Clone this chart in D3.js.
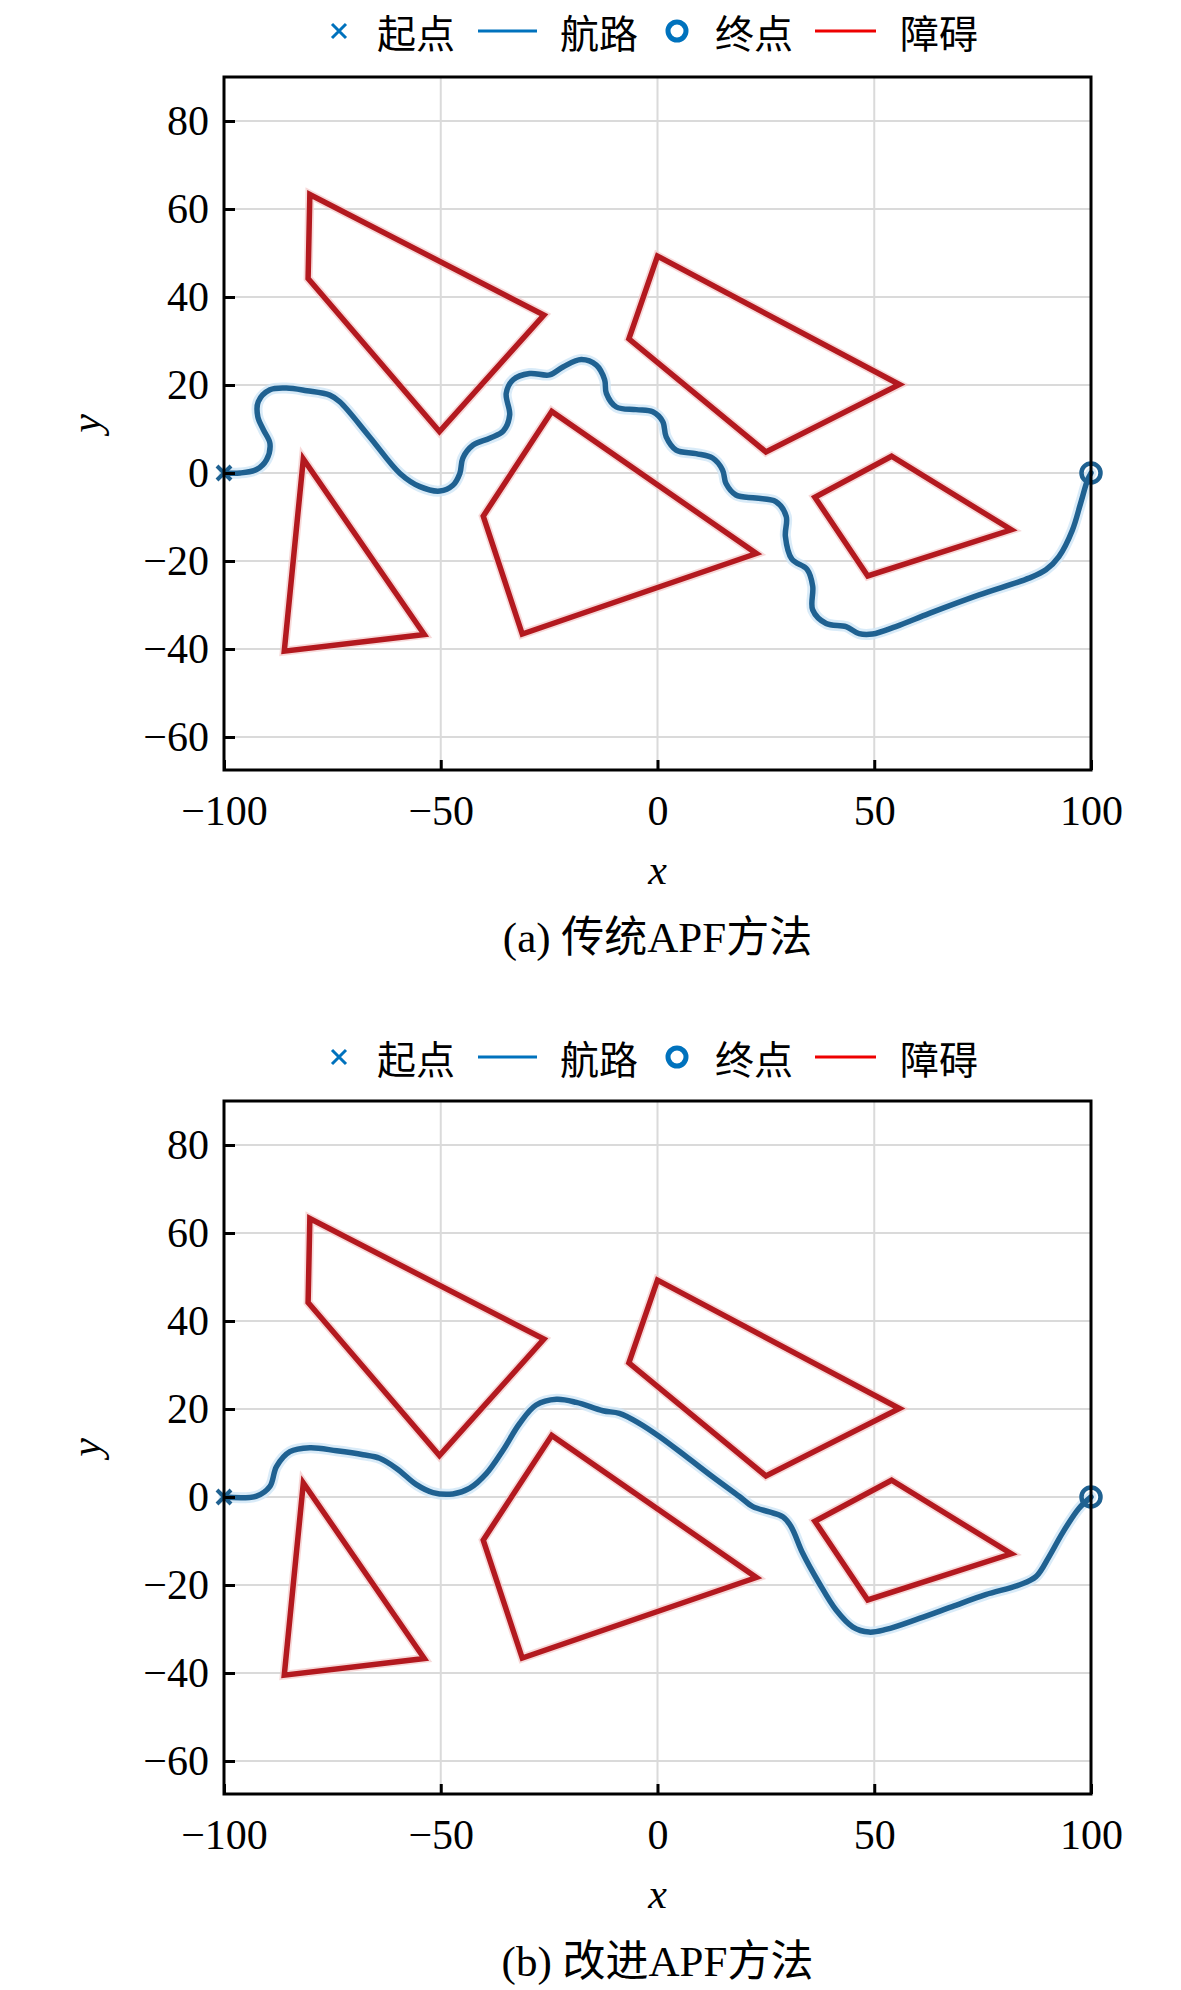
<!DOCTYPE html>
<html>
<head>
<meta charset="utf-8">
<script src="https://cdn.jsdelivr.net/npm/d3@7"></script>
<style>
  html, body { margin: 0; padding: 0; background: #fff; }
  svg { display: block; }
</style>
</head>
<body>
<svg id="chart" width="1181" height="1990"></svg>
<script>
// ---------------- data ----------------
const xTicks = [-100, -50, 0, 50, 100];
const yTicks = [-60, -40, -20, 0, 20, 40, 60, 80];
const xDomain = [-100, 100];
const yDomain = [-67.5, 90.0];

const obstacleA = [[-80.2, 63.3], [-80.6, 44.2], [-50.3, 9.4], [-26.2, 35.9]];
const obstacleB = [[0, 49.3], [-6.6, 30.5], [25.0, 4.8], [55.8, 20.1]];
const obstacleC = [[-81.7, 3.2], [-86.1, -40.5], [-53.8, -36.7]];
const obstacleD = [[-24.4, 14.0], [-40.2, -9.8], [-31.2, -36.6], [22.8, -18.3]];
const obstacleE = [[54, 3.8], [36.3, -5.5], [48.5, -23.4], [81.6, -12.9]];
const obstacles = [obstacleA, obstacleB, obstacleC, obstacleD, obstacleE];

const startPoint = [-100, 0];
const endPoint = [100, 0];

// traditional APF path
const pathTraditional = [
  [-100, 0], [-96.3, 0], [-92.5, 0.8], [-90.2, 3], [-89.4, 6.7], [-90.9, 9.8], [-92.2, 12.8],
  [-92.1, 16.2], [-89.4, 18.9], [-85.6, 19.3], [-80.9, 18.7], [-75.6, 17.7], [-73.3, 16.2],
  [-66.4, 8.2], [-59.4, -0.1], [-54.8, -3.1], [-50.2, -4.1], [-47.2, -2.8], [-45.6, -0.1],
  [-44.9, 3.4], [-42.6, 6.3], [-38.7, 7.9], [-35.6, 9.5], [-34.1, 13.2], [-34.9, 18.1],
  [-33.3, 21.2], [-29.5, 22.6], [-24.9, 22.3], [-21.8, 24.1], [-17.6, 25.8], [-14.1, 24.5],
  [-12.2, 21.2], [-11.8, 18.1], [-9.5, 15.0], [-4.9, 14.4], [-1.1, 13.9], [1.2, 11.7],
  [2.0, 8.2], [4.3, 5.2], [8.9, 4.4], [12.7, 3.4], [15.0, 0.7], [15.8, -2.4], [18.1, -5.0],
  [22.7, -5.7], [27.3, -6.5], [29.7, -9.9], [29.5, -14.4], [31.0, -19.6], [34.5, -21.9],
  [35.8, -25.7], [35.8, -31.1], [38.9, -34.2], [43.5, -34.9], [46.5, -36.5], [49.6, -36.6],
  [55, -34.9], [62.7, -31.9], [74.2, -27.7], [85.7, -23.9], [89.6, -22.0], [92.6, -19.0],
  [95.7, -13.0], [97.6, -6.9], [99.2, -1.6], [100, 0]
];

// improved APF path
const pathImproved = [
  [-100, 0], [-92.5, 0.2], [-89.4, 2.4], [-87.9, 6.9], [-84.8, 10.3], [-80.2, 11.2], [-74, 10.5],
  [-67.9, 9.6], [-64.1, 8.8], [-60.2, 6.5], [-55.6, 2.8], [-51.8, 1.0], [-47.2, 0.7],
  [-43.3, 2], [-39.5, 5.3], [-35.6, 10.7], [-31.8, 16.7], [-28, 20.9], [-23.3, 22.2],
  [-18.7, 21.5], [-12.6, 19.6], [-8.8, 19.0], [-4.3, 16.8], [0.5, 13.7], [6.6, 9.2],
  [12.7, 4.6], [18.9, 0.1], [22, -2.2], [25.8, -3.4], [28.9, -4.5], [30.8, -6.7],
  [33.5, -12.8], [37.3, -19.6], [41.2, -25.7], [45, -29.5], [48.8, -30.7], [52.7, -30.1],
  [60.4, -27.6], [68, -24.9], [75.7, -22.2], [83.4, -20.0], [87.3, -18.1], [90.3, -13.6],
  [93.4, -8.2], [97.2, -2.6], [100, 0]
];

const legendLabels = ["起点", "航路", "终点", "障碍"];
const captions = ["(a) 传统APF方法", "(b) 改进APF方法"];
const axisLabels = ["x", "y"];

// ---------------- drawing ----------------
const svg = d3.select("#chart");
svg.append("rect").attr("width", 1181).attr("height", 1990).attr("fill", "#fff");

const PATH_COLOR = "#1f6191";
const OBST_COLOR = "#b3191f";
const LEG_BLUE = "#0072bd";
const LEG_RED = "#ee0000";
const serif = '"Liberation Serif", "Times New Roman", serif';
const mixed = '"Liberation Serif", "Noto Sans CJK SC", serif';
const cjk = '"Noto Sans CJK SC", sans-serif';

const panels = [
  { top: 77, legendY: 31, path: pathTraditional, caption: captions[0] },
  { top: 1101, legendY: 1057, path: pathImproved, caption: captions[1] }
];

const left = 224, right = 1091, plotH = 693;

panels.forEach(p => {
  const bottom = p.top + plotH;
  const x = d3.scaleLinear().domain(xDomain).range([left, right]);
  const y = d3.scaleLinear().domain(yDomain).range([bottom, p.top]);
  const g = svg.append("g");

  // legend
  const lg = g.append("g").attr("transform", `translate(0,${p.legendY})`);
  const cx = 339;
  lg.append("path").attr("d", `M${cx-7},-7L${cx+7},7M${cx-7},7L${cx+7},-7`)
    .attr("stroke", LEG_BLUE).attr("stroke-width", 3).attr("fill", "none");
  const legText = (xx, t) => lg.append("text").attr("x", xx).attr("y", 0)
    .attr("dominant-baseline", "central").attr("font-family", cjk).attr("font-size", 39).text(t);
  legText(377, legendLabels[0]);
  lg.append("line").attr("x1", 478).attr("x2", 537).attr("y1", 0).attr("y2", 0)
    .attr("stroke", LEG_BLUE).attr("stroke-width", 3);
  legText(560, legendLabels[1]);
  lg.append("circle").attr("cx", 677).attr("cy", 0).attr("r", 9)
    .attr("fill", "none").attr("stroke", LEG_BLUE).attr("stroke-width", 5);
  legText(715, legendLabels[2]);
  lg.append("line").attr("x1", 815).attr("x2", 876).attr("y1", 0).attr("y2", 0)
    .attr("stroke", LEG_RED).attr("stroke-width", 3);
  legText(900, legendLabels[3]);

  // grid
  g.append("g").selectAll("line").data(xTicks).join("line")
    .attr("x1", d => x(d)).attr("x2", d => x(d)).attr("y1", p.top).attr("y2", bottom)
    .attr("stroke", "#dadada").attr("stroke-width", 2);
  g.append("g").selectAll("line").data(yTicks).join("line")
    .attr("x1", left).attr("x2", right).attr("y1", d => y(d)).attr("y2", d => y(d))
    .attr("stroke", "#dadada").attr("stroke-width", 2);

  // obstacles
  const lineGen = d3.line().x(d => x(d[0])).y(d => y(d[1]));
  obstacles.forEach(o => {
    g.append("path").attr("d", lineGen(o) + "Z").attr("fill", "none")
      .attr("stroke", "#f3c9c9").attr("stroke-width", 9).attr("stroke-linejoin", "miter").attr("opacity", 0.7);
    g.append("path").attr("d", lineGen(o) + "Z").attr("fill", "none")
      .attr("stroke", OBST_COLOR).attr("stroke-width", 5.5).attr("stroke-linejoin", "miter");
  });

  // path
  const curve = d3.line().x(d => x(d[0])).y(d => y(d[1])).curve(d3.curveCatmullRom.alpha(0.5));
  g.append("path").attr("d", curve(p.path)).attr("fill", "none")
    .attr("stroke", "#cfe6f6").attr("stroke-width", 11).attr("stroke-linecap", "round").attr("opacity", 0.8);
  g.append("path").attr("d", curve(p.path)).attr("fill", "none")
    .attr("stroke", PATH_COLOR).attr("stroke-width", 5.5).attr("stroke-linecap", "round").attr("stroke-linejoin", "round");

  // start / end markers
  const sx = x(startPoint[0]), sy = y(startPoint[1]);
  g.append("path").attr("d", `M${sx-7},${sy-7}L${sx+7},${sy+7}M${sx-7},${sy+7}L${sx+7},${sy-7}`)
    .attr("stroke", PATH_COLOR).attr("stroke-width", 4).attr("fill", "none");
  g.append("circle").attr("cx", x(endPoint[0])).attr("cy", y(endPoint[1])).attr("r", 9.5)
    .attr("fill", "none").attr("stroke", PATH_COLOR).attr("stroke-width", 4.5);

  // axes
  const ax = g.append("g").attr("transform", `translate(0,${bottom})`)
    .call(d3.axisBottom(x).tickValues(xTicks).tickSize(-10).tickPadding(25));
  ax.select(".domain").remove();
  ax.selectAll(".tick line").attr("stroke", "#000").attr("stroke-width", 3);

  const ay = g.append("g").attr("transform", `translate(${left},0)`)
    .call(d3.axisLeft(y).tickValues(yTicks).tickSize(-11).tickPadding(15));
  ay.select(".domain").remove();
  ay.selectAll(".tick line").attr("stroke", "#000").attr("stroke-width", 3);
  ax.selectAll("text").attr("font-family", serif).attr("font-size", 42).attr("fill", "#000");
  ay.selectAll("text").attr("font-family", serif).attr("font-size", 42).attr("fill", "#000");

  // frame
  g.append("rect").attr("x", left).attr("y", p.top).attr("width", right - left).attr("height", plotH)
    .attr("fill", "none").attr("stroke", "#000").attr("stroke-width", 3);

  // axis labels
  g.append("text").attr("x", (left + right) / 2).attr("y", bottom + 100)
    .attr("text-anchor", "middle").attr("dominant-baseline", "central")
    .attr("font-family", serif).attr("font-style", "italic").attr("font-size", 42).text(axisLabels[0]);
  g.append("text").attr("transform", `translate(86,${(p.top + bottom) / 2}) rotate(-90)`)
    .attr("text-anchor", "middle").attr("dominant-baseline", "central")
    .attr("font-family", serif).attr("font-style", "italic").attr("font-size", 42).text(axisLabels[1]);

  // caption
  g.append("text").attr("x", (left + right) / 2).attr("y", bottom + 167)
    .attr("text-anchor", "middle").attr("dominant-baseline", "central")
    .attr("font-family", mixed).attr("font-size", 43).text(p.caption);
});
</script>
</body>
</html>
